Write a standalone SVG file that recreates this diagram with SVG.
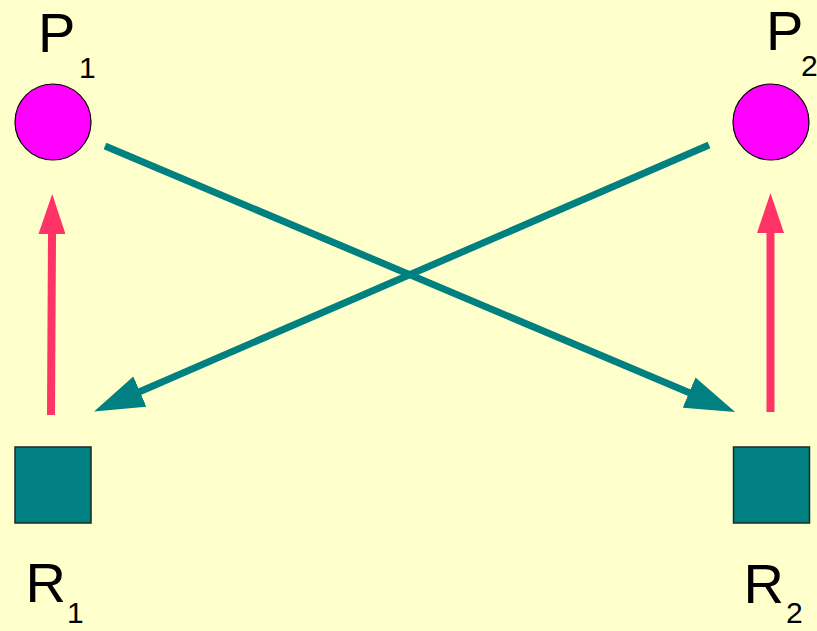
<svg xmlns="http://www.w3.org/2000/svg" width="817" height="631" viewBox="0 0 817 631">
  <defs>
    <style>
      .lbl { font-family: "Liberation Sans", Arial, sans-serif; font-size: 56px; fill: #000; }
      .sub { font-family: "Liberation Sans", Arial, sans-serif; font-size: 30px; fill: #000; }
      .proc { fill: #FF00FF; stroke: #000; stroke-width: 1.2; }
      .res { fill: #008080; stroke: #1a2a2a; stroke-width: 1.5; }
      .req { stroke: #FF3366; stroke-width: 8; fill: none; }
      .hold { stroke: #008080; stroke-width: 7; fill: none; }
    </style>
    <marker id="pinkHead" markerUnits="userSpaceOnUse" markerWidth="40" markerHeight="27" refX="1" refY="13.5" orient="auto" viewBox="0 0 40 27">
      <path d="M0,0 L40,13.5 L0,27 Z" fill="#FF3366"/>
    </marker>
    <marker id="tealHead" markerUnits="userSpaceOnUse" markerWidth="50" markerHeight="33" refX="1" refY="16.5" orient="auto" viewBox="0 0 50 33">
      <path d="M0,0 L50,16.5 L0,33 Z" fill="#008080"/>
    </marker>
  </defs>
  <rect x="0" y="0" width="817" height="631" fill="#FFFFCC"/>

  <g id="connectors">
    <line class="req" x1="51" y1="415" x2="52" y2="233" marker-end="url(#pinkHead)"/>
    <line class="req" x1="770.5" y1="412" x2="770.5" y2="232" marker-end="url(#pinkHead)"/>
    <line class="hold" x1="105" y1="146" x2="690" y2="393" marker-end="url(#tealHead)"/>
    <line class="hold" x1="709" y1="145" x2="139" y2="392" marker-end="url(#tealHead)"/>
  </g>

  <g id="P1">
    <circle class="proc" cx="53" cy="122" r="38"/>
    <text class="lbl" x="38" y="52">P</text>
    <text class="sub" x="79" y="78">1</text>
  </g>
  <g id="P2">
    <circle class="proc" cx="771" cy="122" r="38"/>
    <text class="lbl" x="766" y="50">P</text>
    <text class="sub" x="801" y="76">2</text>
  </g>
  <g id="R1">
    <rect class="res" x="15" y="447" width="76" height="76"/>
    <text class="lbl" x="25.5" y="602">R</text>
    <text class="sub" x="67" y="623">1</text>
  </g>
  <g id="R2">
    <rect class="res" x="733.5" y="447" width="76" height="76"/>
    <text class="lbl" x="743.5" y="603">R</text>
    <text class="sub" x="786" y="623">2</text>
  </g>
</svg>
